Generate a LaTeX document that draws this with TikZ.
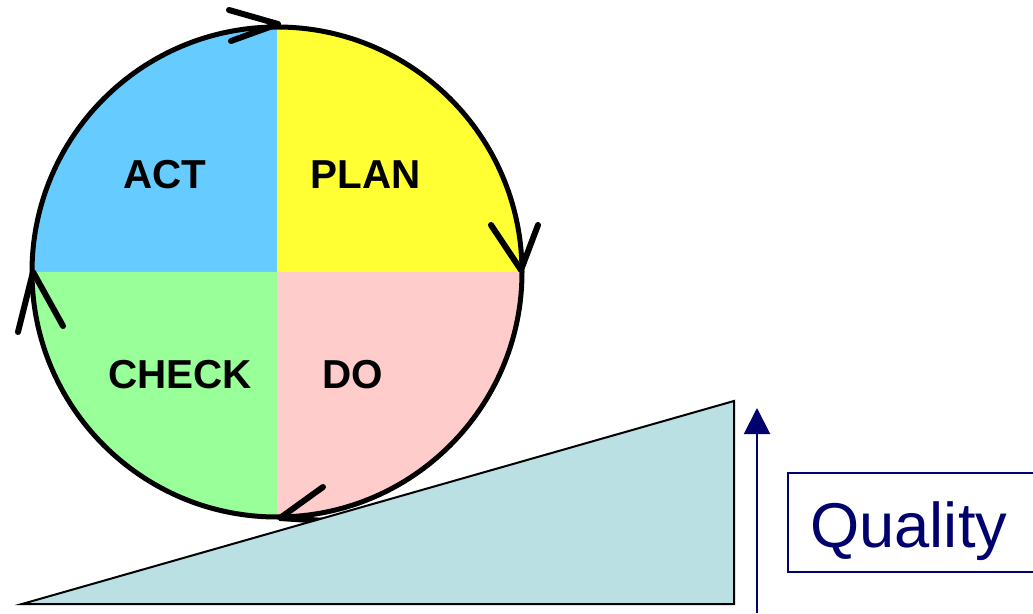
\documentclass[tikz,border=0pt]{standalone}
\usepackage{fontspec}
\setmainfont{Liberation Sans}
\usetikzlibrary{calc,arrows.meta}
\definecolor{actblue}{RGB}{102,204,255}
\definecolor{planyellow}{RGB}{255,255,51}
\definecolor{checkgreen}{RGB}{153,255,153}
\definecolor{dopink}{RGB}{255,204,204}
\definecolor{slope}{RGB}{186,224,227}
\definecolor{navy}{RGB}{0,0,110}
\def\quadrant[#1](#2)(#3:#4:#5){\fill[#1] (#2) -- ($(#2)+({#5*cos(#3)},{#5*sin(#3)})$) arc (#3:#4:#5) -- cycle;}
\tikzset{
  phase/.style={font=\fontsize{23}{25}\selectfont\bfseries},
  chevron/.style={line width=1.2mm, line cap=round, line join=round}
}

\begin{document}
\begin{tikzpicture}
			%%%%% START %%%%%
			\useasboundingbox (0, 0) rectangle (20.66, 12.26);
			\clip (0, 0) rectangle (20.66, 12.26);
			
			\coordinate (c) at (5.54, 6.82);
			
			\quadrant[actblue](c)(90:180:4.9);
			\quadrant[planyellow](c)(0:90:4.9);
			\quadrant[checkgreen](c)(180:270:4.9);
			\quadrant[dopink](c)(270:360:4.9);
			\draw[line width=1mm] (c) circle (4.9);
			
			\node[phase] (act) at (3.30, 8.76) {ACT};
			\node[phase] (plan) at (7.32, 8.76) {PLAN};
			\node[phase] (check) at (3.60, 4.76) {CHECK};
			\node[phase] (do) at (7.06, 4.76) {DO};
			
			% cycle arrows
			\coordinate (top) at (5.56, 11.78);
			\coordinate (right) at (10.42, 6.86);
			\coordinate (bottom) at (5.60, 1.90);
			\coordinate (left) at (0.66, 6.82);
			\draw[chevron] (4.58, 12.06) -- (top) -- (4.62, 11.44);
			\draw[chevron] (9.82, 7.76) -- (right) -- (10.76, 7.76);
			\draw[chevron] (6.46, 2.52) -- (bottom) -- (6.50, 1.84);
			\draw[chevron] (0.36, 5.62) -- (left) -- (1.26, 5.74);
			
			% slope
			\draw[fill=slope, line width=0.4mm] (0.44, 0.18) -- (14.68, 0.18) -- (14.68, 4.24) -- cycle;
			
			\coordinate (foot) at (15.14, 0);
			\coordinate (head) at (15.14, 4.10);
			\draw[navy, line width=0.4mm, -{Triangle[length=0.52cm, width=0.52cm]}] (foot) -- (head);
			
			\draw[navy, line width=0.3mm] (15.76, 0.82) rectangle (21, 2.80);
			\node[navy, anchor=base west, inner sep=0, font=\fontsize{36}{38}\selectfont] (quality) at (16.20, 1.32) {Quality};
			
			%%%%% END %%%%%
\end{tikzpicture}
\end{document}
